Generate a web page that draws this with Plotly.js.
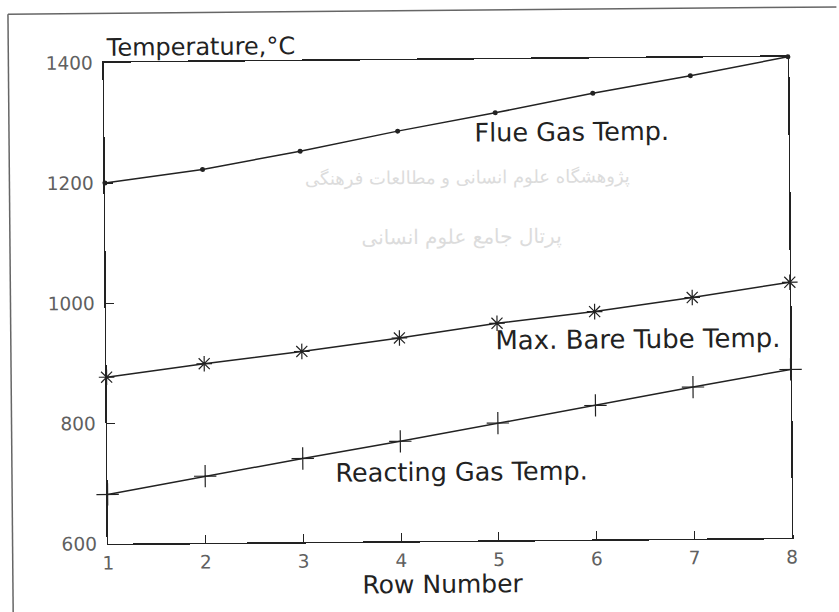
<!DOCTYPE html>
<html>
<head>
<meta charset="utf-8">
<script src="https://cdn.plot.ly/plotly-3.0.1.min.js"></script>
<style>
  html, body { margin: 0; padding: 0; background: #ffffff; overflow: hidden; }
  #chart { width: 839px; height: 612px; transform: rotate(-0.5deg); transform-origin: 50% 50%; }
</style>
</head>
<body>
<div id="chart"></div>
<script>
// ---- data ----
const rowNumbers = [1, 2, 3, 4, 5, 6, 7, 8];
const flueGasTemp = [1200, 1221, 1250, 1282, 1311, 1342, 1370, 1400];
const maxBareTubeTemp = [877, 898, 917, 938, 961, 979, 1001, 1025];
const reactingGasTemp = [682, 711, 739, 766, 795, 823, 852, 880];
const xTickVals = [1, 2, 3, 4, 5, 6, 7, 8];
const yTickVals = [600, 800, 1000, 1200, 1400];
const seriesNames = ["Flue Gas Temp.", "Max. Bare Tube Temp.", "Reacting Gas Temp."];
const yAxisLabel = "Temperature,°C";
const xAxisLabel = "Row Number";
const watermarkTexts = ["پژوهشگاه علوم انسانی و مطالعات فرهنگی", "پرتال جامع علوم انسانی"];

const ink = "#222222";
const lineStyle = { color: ink, width: 1.5 };

const traces = [
  {
    x: rowNumbers, y: flueGasTemp, name: seriesNames[0], type: "scatter", mode: "lines+markers",
    line: lineStyle, cliponaxis: false,
    marker: { symbol: "circle", size: 5, color: ink }
  },
  {
    x: rowNumbers, y: maxBareTubeTemp, name: seriesNames[1], type: "scatter", mode: "lines+markers",
    line: lineStyle, cliponaxis: false,
    marker: { symbol: "asterisk-open", size: 13, color: ink, line: { color: ink, width: 1.2 } }
  },
  {
    x: rowNumbers, y: reactingGasTemp, name: seriesNames[2], type: "scatter", mode: "lines+markers",
    line: lineStyle, cliponaxis: false,
    marker: { symbol: "cross-thin-open", size: 16, color: ink, line: { color: ink, width: 1.2 } }
  }
];

const tickFont = { family: "DejaVu Sans", size: 18.5, color: "#606060" };

const layout = {
  width: 839, height: 612,
  margin: { l: 105.6, r: 48.7, t: 59.5, b: 70.5, pad: 0 },
  paper_bgcolor: "#ffffff", plot_bgcolor: "#ffffff",
  showlegend: false,
  xaxis: {
    range: [1, 8], tickvals: xTickVals, ticktext: xTickVals.map(String),
    showline: true, mirror: true, linecolor: ink, linewidth: 1.5,
    ticks: "inside", ticklen: 8, tickwidth: 1.2, tickcolor: ink,
    showgrid: false, zeroline: false,
    tickfont: tickFont,
    ticklabelstandoff: 2
  },
  yaxis: {
    range: [600, 1400], tickvals: yTickVals, ticktext: yTickVals.map(String),
    showline: true, mirror: true, linecolor: ink, linewidth: 1.5,
    ticks: "inside", ticklen: 8, tickwidth: 1.2, tickcolor: ink,
    showgrid: false, zeroline: false,
    tickfont: tickFont,
    ticklabelstandoff: 6
  },
  annotations: [
    { text: yAxisLabel, xref: "paper", yref: "paper", x: 0.0, y: 1.032, xanchor: "left", yanchor: "middle",
      showarrow: false, font: { family: "DejaVu Sans", size: 24, color: ink } },
    { text: xAxisLabel, xref: "paper", yref: "paper", x: 0.489, y: -0.09, xanchor: "center", yanchor: "middle",
      showarrow: false, font: { family: "DejaVu Sans", size: 25, color: ink } },
    { text: seriesNames[0], xref: "x", yref: "y", x: 4.77, y: 1278, xanchor: "left", yanchor: "middle",
      showarrow: false, font: { family: "DejaVu Sans", size: 25.5, color: ink } },
    { text: seriesNames[1], xref: "x", yref: "y", x: 4.96, y: 932, xanchor: "left", yanchor: "middle",
      showarrow: false, font: { family: "DejaVu Sans", size: 26, color: ink } },
    { text: seriesNames[2], xref: "x", yref: "y", x: 3.31, y: 715, xanchor: "left", yanchor: "middle",
      showarrow: false, font: { family: "DejaVu Sans", size: 25.5, color: ink } },
    { text: watermarkTexts[0], xref: "paper", yref: "paper", x: 0.53, y: 0.755, xanchor: "center", yanchor: "middle",
      showarrow: false, font: { family: "DejaVu Sans", size: 18, color: "#dcdcdc" } },
    { text: watermarkTexts[1], xref: "paper", yref: "paper", x: 0.52, y: 0.63, xanchor: "center", yanchor: "middle",
      showarrow: false, font: { family: "DejaVu Sans", size: 20, color: "#dcdcdc" } }
  ],
  shapes: [
    { type: "line", xref: "paper", yref: "paper", x0: -0.1396, x1: -0.1396, y0: -0.25, y1: 1.1027,
      line: { color: "#666666", width: 1.5 } },
    { type: "line", xref: "paper", yref: "paper", x0: -0.1396, x1: 1.2, y0: 1.1027, y1: 1.1027,
      line: { color: "#666666", width: 1.5 } }
  ]
};

Plotly.newPlot("chart", traces, layout, { displayModeBar: false, staticPlot: true });
</script>
</body>
</html>
